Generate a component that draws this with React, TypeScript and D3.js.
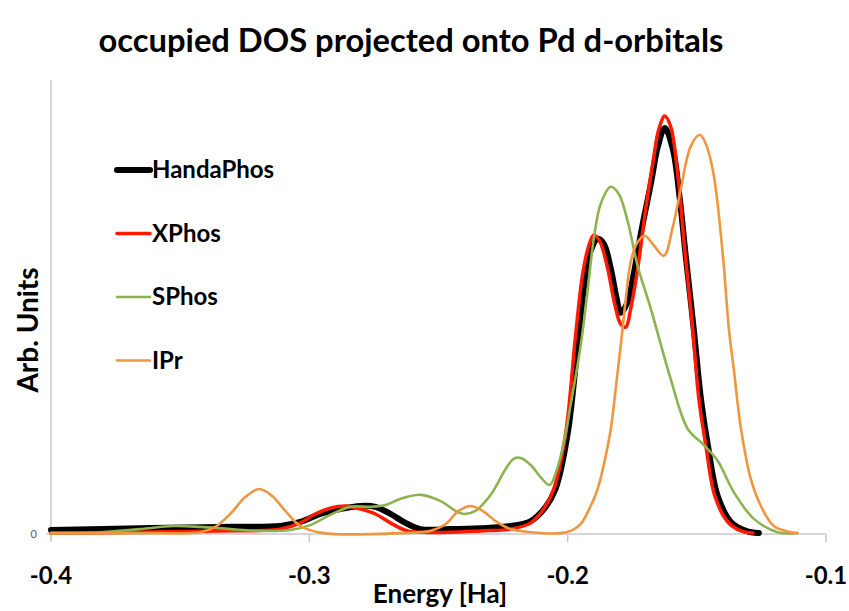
import React from "react";
import * as d3 from "d3";

const title = "occupied DOS projected onto Pd d-orbitals";
const xLabel = "Energy [Ha]";
const yLabel = "Arb. Units";
const xTicks = [-0.4, -0.3, -0.2, -0.1];
const xTickLabels = ["-0.4", "-0.3", "-0.2", "-0.1"];
const yTicks = [0];

const seriesNames = ["HandaPhos", "XPhos", "SPhos", "IPr"];
const seriesColors = ["#000000", "#ff1a00", "#8db34f", "#f0963f"];
const seriesWidths = [6, 3.5, 2.6, 2.6];

const handaE = [-0.4, -0.3655, -0.3345, -0.3112, -0.3035, -0.2957, -0.288, -0.2802, -0.2744, -0.2686, -0.2628, -0.257, -0.2453, -0.2337, -0.2221, -0.2143, -0.2085, -0.2047, -0.2, -0.1957, -0.193, -0.1911, -0.1884, -0.186, -0.1833, -0.181, -0.1795, -0.1771, -0.1748, -0.1717, -0.1678, -0.1651, -0.1624, -0.1593, -0.1566, -0.1543, -0.1512, -0.1484, -0.1457, -0.1419, -0.1368, -0.131, -0.126];
const handaV = [0.9, 1.3, 1.6, 1.8, 2.7, 4.5, 5.6, 6.3, 6.1, 4.5, 2.5, 1.1, 1.1, 1.3, 1.8, 2.9, 6.1, 10.1, 22.5, 44.9, 58.4, 63.6, 66.3, 65.2, 59.6, 52.8, 49.7, 51.7, 57.3, 67.4, 78.7, 87.0, 91.2, 86.5, 75.3, 62.5, 46.1, 30.3, 19.8, 8.5, 2.7, 0.7, 0.2];

const xphosE = [-0.4, -0.3655, -0.3345, -0.3112, -0.3035, -0.2977, -0.2919, -0.286, -0.2802, -0.2744, -0.2686, -0.262, -0.2453, -0.2337, -0.2221, -0.2143, -0.2093, -0.2054, -0.2008, -0.1969, -0.1942, -0.1922, -0.1899, -0.1876, -0.1845, -0.1818, -0.1795, -0.1775, -0.1756, -0.1729, -0.1698, -0.1671, -0.1647, -0.1624, -0.1601, -0.1574, -0.1547, -0.1516, -0.1492, -0.1465, -0.143, -0.138, -0.1329, -0.1283];
const xphosV = [0.2, 0.4, 0.7, 1.1, 2.5, 4.5, 5.8, 6.3, 5.6, 4.5, 2.5, 0.7, 0.4, 0.7, 1.1, 2.5, 5.6, 10.1, 22.5, 44.9, 58.4, 64.0, 67.2, 65.8, 59.6, 51.7, 47.2, 46.5, 50.6, 59.6, 73.0, 83.1, 91.0, 93.9, 91.5, 80.9, 64.0, 46.1, 30.3, 19.8, 8.5, 2.7, 0.7, 0.2];

const sphosE = [-0.4, -0.381, -0.3655, -0.3527, -0.3422, -0.3306, -0.319, -0.3074, -0.2996, -0.2919, -0.2841, -0.2764, -0.2705, -0.2647, -0.257, -0.2492, -0.2434, -0.2403, -0.2357, -0.2298, -0.224, -0.2209, -0.2182, -0.2143, -0.2105, -0.207, -0.2043, -0.2016, -0.1988, -0.195, -0.1922, -0.1899, -0.1872, -0.1833, -0.1802, -0.1767, -0.1729, -0.1678, -0.164, -0.1601, -0.1535, -0.1473, -0.1419, -0.1357, -0.1279, -0.1186, -0.1116];
const sphosV = [0.2, 0.4, 1.1, 1.8, 1.6, 1.1, 0.7, 0.9, 2.0, 4.3, 6.1, 6.1, 6.5, 7.9, 8.8, 7.4, 5.2, 4.5, 5.2, 8.8, 14.6, 16.9, 17.1, 15.5, 12.8, 11.0, 14.2, 20.2, 29.2, 42.2, 55.1, 66.3, 74.2, 78.0, 76.4, 70.1, 60.2, 50.6, 42.7, 34.8, 23.6, 20.0, 16.4, 9.4, 3.4, 0.4, 0.2];

const iprE = [-0.4, -0.3616, -0.3422, -0.3364, -0.3306, -0.3248, -0.3194, -0.3143, -0.3093, -0.3035, -0.2946, -0.2647, -0.2531, -0.2473, -0.2422, -0.2376, -0.2329, -0.2279, -0.2221, -0.2143, -0.2027, -0.1988, -0.195, -0.1911, -0.1884, -0.1857, -0.1833, -0.1814, -0.1795, -0.1775, -0.1756, -0.1729, -0.1702, -0.1671, -0.1628, -0.1593, -0.1562, -0.1523, -0.1488, -0.1461, -0.1434, -0.1399, -0.1376, -0.1357, -0.1329, -0.1291, -0.1252, -0.1202, -0.1136, -0.1109];
const iprV = [0.2, 0.2, 0.4, 1.6, 4.5, 8.3, 10.1, 8.5, 5.2, 1.8, 0.2, 0.2, 0.7, 2.2, 5.2, 6.3, 5.2, 2.9, 1.1, 0.4, 0.2, 0.7, 2.2, 6.3, 10.1, 16.4, 23.6, 32.6, 42.2, 52.8, 61.1, 65.6, 67.0, 65.2, 62.5, 69.0, 77.5, 87.2, 89.7, 87.0, 80.4, 62.5, 46.1, 37.1, 23.6, 12.4, 6.3, 1.8, 0.4, 0.2];

const seriesE = [handaE, xphosE, sphosE, iprE];
const seriesV = [handaV, xphosV, sphosV, iprV];

const W = 849;
const H = 611;
const plot = { left: 51, right: 826, top: 80, bottom: 534 };
const font = "Lato, 'Open Sans', sans-serif";

export default function App() {
  const x = d3.scaleLinear().domain([-0.4, -0.1]).range([plot.left, plot.right]);
  const y = d3.scaleLinear().domain([0, 102]).range([plot.bottom, plot.top]);
  const line = d3
    .line<[number, number]>()
    .x((d) => x(d[0]))
    .y((d) => y(d[1]))
    .curve(d3.curveCatmullRom.alpha(0.5));

  const legendY0 = 170;
  const legendStep = 63.5;

  return (
    <svg
      width={W}
      height={H}
      viewBox={`0 0 ${W} ${H}`}
      style={{ position: "absolute", left: 0, top: 0, background: "#fff" }}
    >
      <rect x={0} y={0} width={W} height={H} fill="#fff" />
      <text
        x={411}
        y={52}
        textAnchor="middle"
        fontFamily={font}
        fontWeight="bold"
        fontSize={32}
        textLength={625}
        lengthAdjust="spacingAndGlyphs"
        fill="#000"
      >
        {title}
      </text>

      {/* axes */}
      <line x1={plot.left} x2={plot.left} y1={plot.top} y2={plot.bottom + 5} stroke="#c8c8c8" strokeWidth={1.5} />
      <line x1={plot.left - 5} x2={plot.right} y1={plot.bottom} y2={plot.bottom} stroke="#c8c8c8" strokeWidth={1.5} />
      {xTicks.map((t, i) => (
        <g key={i}>
          <line x1={x(t)} x2={x(t)} y1={plot.bottom} y2={plot.bottom + 8} stroke="#c8c8c8" strokeWidth={1.5} />
          <text
            x={x(t)}
            y={584}
            textAnchor="middle"
            fontFamily={font}
            fontWeight="bold"
            fontSize={24}
            fill="#000"
          >
            {xTickLabels[i]}
          </text>
        </g>
      ))}
      {yTicks.map((t, i) => (
        <text
          key={i}
          x={plot.left - 14}
          y={y(t)}
          dy="0.35em"
          textAnchor="end"
          fontFamily={font}
          fontSize={11}
          fill="#595959"
        >
          {t}
        </text>
      ))}

      <text
        x={440}
        y={603}
        textAnchor="middle"
        fontFamily={font}
        fontWeight="bold"
        fontSize={26}
        fill="#000"
      >
        {xLabel}
      </text>
      <text
        transform={`translate(28,330) rotate(-90)`}
        textAnchor="middle"
        dy="0.35em"
        fontFamily={font}
        fontWeight="bold"
        fontSize={28}
        fill="#000"
      >
        {yLabel}
      </text>

      {/* series */}
      {seriesNames.map((name, si) => {
        const pts: [number, number][] = seriesE[si].map((e, k) => [e, seriesV[si][k]]);
        return (
          <path
            key={name}
            d={line(pts) || ""}
            fill="none"
            stroke={seriesColors[si]}
            strokeWidth={seriesWidths[si]}
            strokeLinejoin="round"
            strokeLinecap="round"
          />
        );
      })}

      {/* legend */}
      {seriesNames.map((name, si) => (
        <g key={"lg" + name}>
          <line
            x1={117}
            x2={150}
            y1={legendY0 + si * legendStep}
            y2={legendY0 + si * legendStep}
            stroke={seriesColors[si]}
            strokeWidth={seriesWidths[si]}
            strokeLinecap="round"
          />
          <text
            x={152}
            y={legendY0 + si * legendStep}
            dy="0.35em"
            fontFamily={font}
            fontWeight="bold"
            fontSize={24}
            fill="#000"
          >
            {name}
          </text>
        </g>
      ))}
    </svg>
  );
}
